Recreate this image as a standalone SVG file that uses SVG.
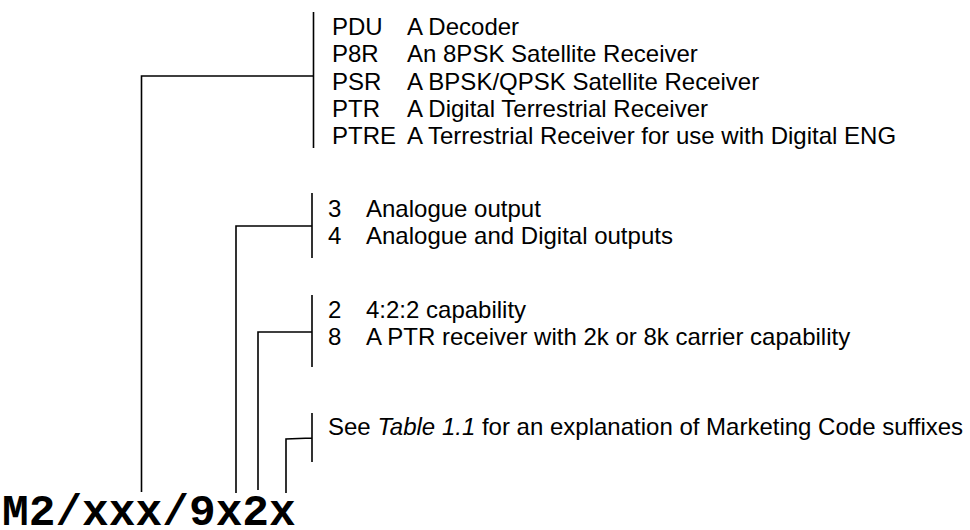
<svg xmlns="http://www.w3.org/2000/svg" width="970" height="530" viewBox="0 0 970 530">
<style>
.t{font-family:"Liberation Sans",Arial,sans-serif;font-size:24px;fill:#000}
.code{font-family:"Liberation Mono","Courier New",monospace;font-weight:bold;font-size:44.5px;fill:#000}
.ln{stroke:#000;stroke-width:1.6;fill:none}
</style>
<rect width="970" height="530" fill="#fff"/>
<g id="connectors">
<path class="ln" d="M313.5 12V148M141.5 492V76H313.5"/>
<path class="ln" d="M312 193V258M236 493V226H312"/>
<path class="ln" d="M312 295V367M258 490V332H312"/>
<path class="ln" d="M312 413V462M286 493V439L312 438"/>
</g>
<g id="product">
<text class="t" x="332" y="35">PDU</text><text class="t" x="407" y="35">A Decoder</text>
<text class="t" x="332" y="62.3">P8R</text><text class="t" x="407" y="62.3">An 8PSK Satellite Receiver</text>
<text class="t" x="332" y="89.6">PSR</text><text class="t" x="407" y="89.6">A BPSK/QPSK Satellite Receiver</text>
<text class="t" x="332" y="116.9">PTR</text><text class="t" x="407" y="116.9">A Digital Terrestrial Receiver</text>
<text class="t" x="332" y="144.2">PTRE</text><text class="t" x="407" y="144.2">A Terrestrial Receiver for use with Digital ENG</text>
</g>
<g id="outputs">
<text class="t" x="328" y="217">3</text><text class="t" x="366" y="217">Analogue output</text>
<text class="t" x="328" y="244">4</text><text class="t" x="366" y="244">Analogue and Digital outputs</text>
</g>
<g id="capability">
<text class="t" x="328" y="317.5">2</text><text class="t" x="366" y="317.5">4:2:2 capability</text>
<text class="t" x="328" y="345">8</text><text class="t" x="366" y="345">A PTR receiver with 2k or 8k carrier capability</text>
</g>
<g id="suffix">
<text class="t" x="328" y="435">See <tspan font-style="italic">Table 1.1</tspan> for an explanation of Marketing Code suffixes</text>
</g>
<g id="code">
<text class="code" x="2" y="525">M2/xxx/9x2x</text>
</g>
</svg>
